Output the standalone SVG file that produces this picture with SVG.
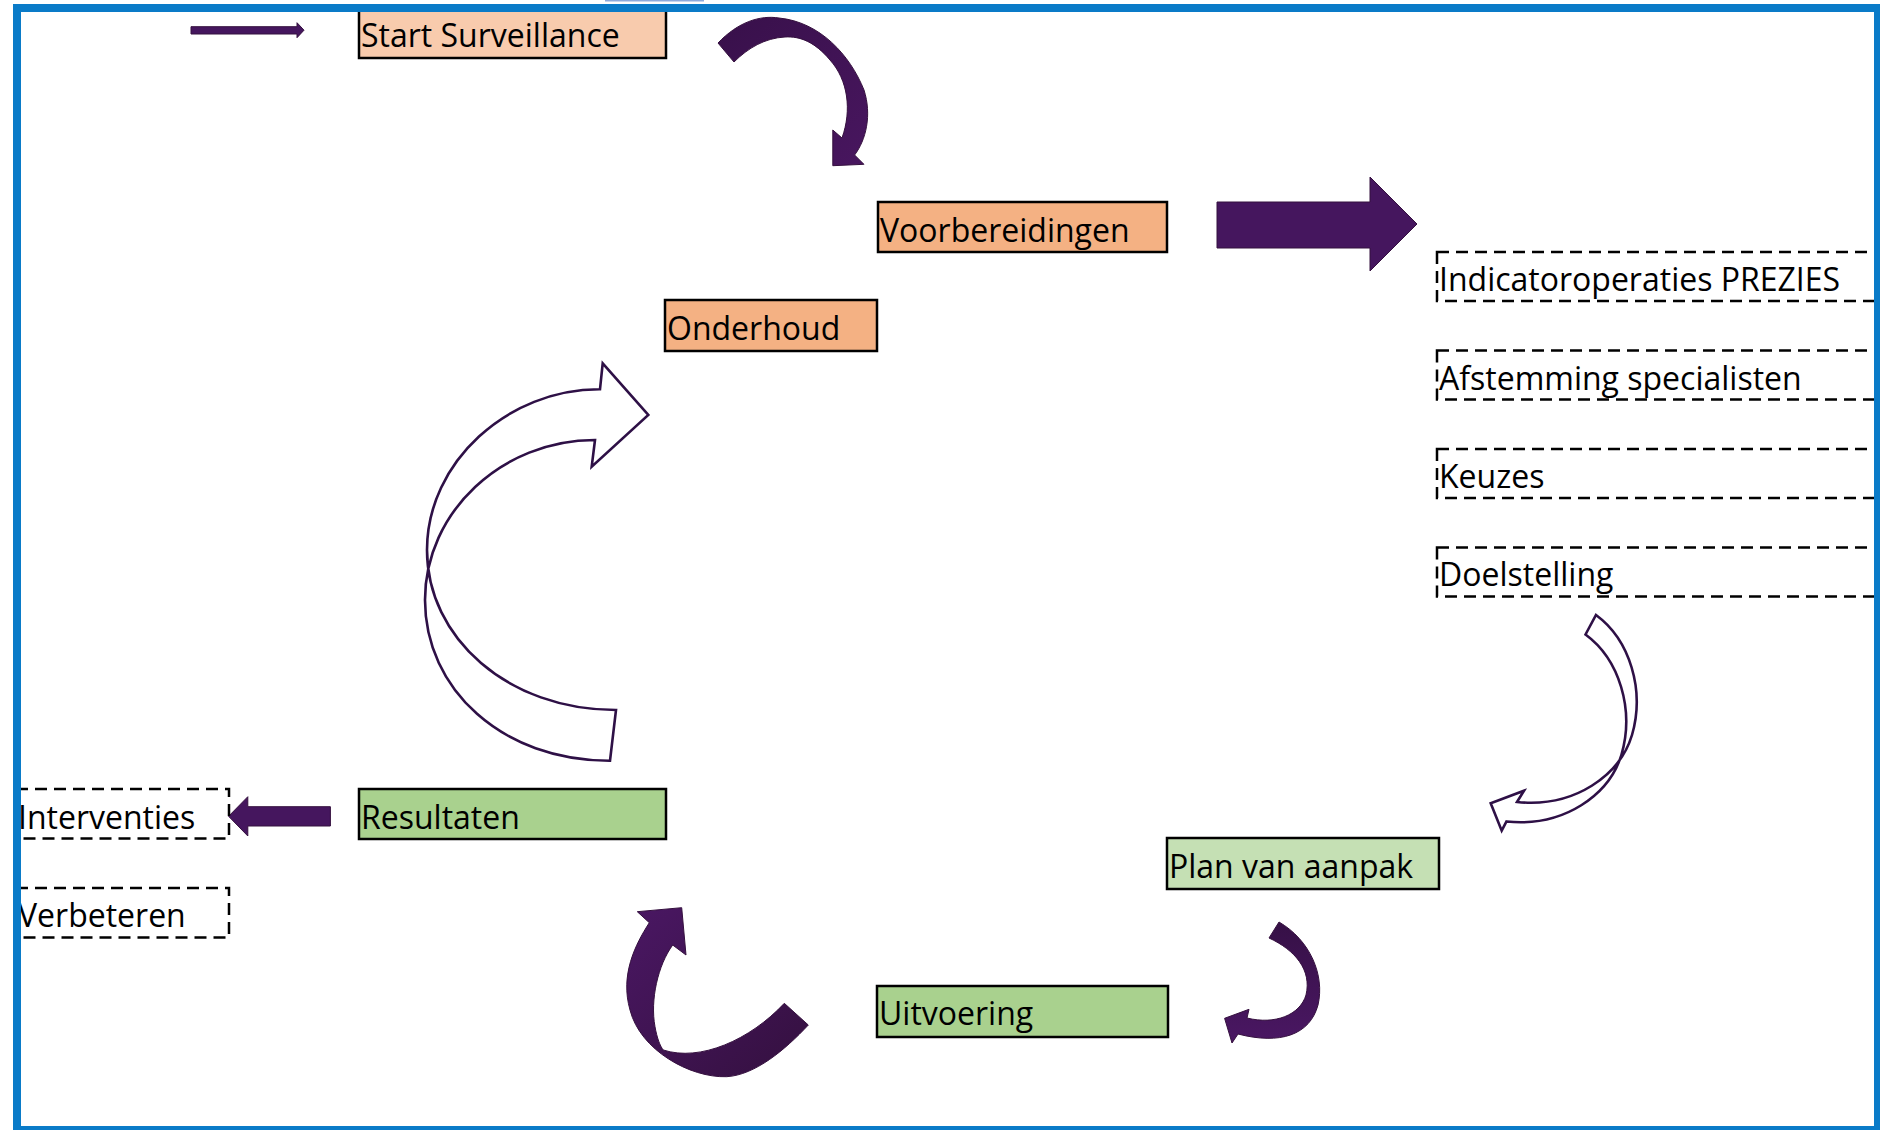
<svg xmlns="http://www.w3.org/2000/svg" width="1880" height="1130" viewBox="0 0 1880 1130">
  <style>
    .lbl { font-family: "Open Sans", "Liberation Sans", sans-serif; font-size: 32px; fill: #000; }
    .box { stroke: #000; stroke-width: 2.5; }
    .peach { fill: #F8CBAD; }
    .orange { fill: #F4B183; }
    .green { fill: #A9D18E; }
    .lgreen { fill: #C5E0B4; }
    .dash { fill: none; stroke: #000; stroke-width: 2.5; stroke-dasharray: 12 7; }
    .solid { fill: #45165E; stroke: #35103F; stroke-width: 1; }
    .hollow { fill: #fff; stroke: #2E1046; stroke-width: 2.6; stroke-linejoin: miter; }
  </style>
  <defs>
    <linearGradient id="gTop" x1="0" y1="0" x2="1" y2="1">
      <stop offset="0" stop-color="#38104A"/>
      <stop offset="1" stop-color="#48165F"/>
    </linearGradient>
    <linearGradient id="gBR" x1="0" y1="0" x2="0" y2="1">
      <stop offset="0" stop-color="#361046"/>
      <stop offset="1" stop-color="#4A1763"/>
    </linearGradient>
    <linearGradient id="gBL" x1="0" y1="0" x2="1" y2="1">
      <stop offset="0" stop-color="#4A1763"/>
      <stop offset="1" stop-color="#34103F"/>
    </linearGradient>
  </defs>

  <rect x="0" y="0" width="1880" height="1130" fill="#fff"/>
  <rect x="605" y="-2" width="99" height="3.5" fill="#8EA9DB"/>

  <g id="connectors">
    <path id="arrow-start" class="solid" d="M191,26.7 L297,26.7 L297,22.7 L304,30.2 L297,37.7 L297,34 L191,34 Z"/>
    <path id="arrow-curve-top" fill="url(#gTop)" stroke="#35103F" stroke-width="1" d="M718,43 C738,22 760,15 779,18 C820,22 850,55 864,90 C872,115 866,140 854.6,155 L863.9,164.3 L832.8,165.7 L832.8,130 L842,138 C852,110 848,80 830,60 C815,42 800,36 785,37 C765,38 748,48 734,62 Z"/>
    <path id="arrow-big-right" class="solid" d="M1217,202 L1370,202 L1370,177 L1417,224 L1370,271 L1370,248 L1217,248 Z"/>
    <path id="arrow-hollow-right" class="hollow" d="M1596,615 C1630,640 1645,690 1632,735 C1620,775 1575,808 1517,802 L1524,790.7 L1490.7,803.3 L1501.7,830.7 L1506.5,821.5 C1564.5,827.5 1609.5,794.5 1621.5,754.5 C1634.5,709.5 1619.5,659.5 1585.5,634.5 Z"/>
    <path id="arrow-curve-br" fill="url(#gBR)" stroke="#35103F" stroke-width="1" d="M1279,922 C1310,940 1325,975 1318,1005 C1310,1035 1280,1045 1238,1034 L1232,1043 L1224.6,1018.3 L1249,1009.3 L1247,1018 C1275,1025 1300,1015 1306,995 C1312,970 1295,950 1269,938 Z"/>
    <path id="arrow-curve-bl" fill="url(#gBL)" stroke="#35103F" stroke-width="1" d="M784.3,1003.3 L808.3,1025 C785,1050 755,1075 726.7,1076.7 C690,1078 640,1050 630,1010 C620,975 635,945 649.3,922.7 L637.3,911.7 L681.7,907.7 L686,955 L672.7,945 C658,965 650,1000 655,1026.7 C657,1038 660,1046 663.3,1050 C700,1062 750,1040 784.3,1003.3 Z"/>
    <path id="arrow-left" class="solid" d="M330.4,806.7 L247.8,806.7 L247.8,796.7 L228.6,816.3 L247.8,836 L247.8,826 L330.4,826 Z"/>
    <path id="arrow-hollow-left" class="hollow" d="M595,440 L591.7,466.7 L648.3,415 L602.7,363.3 L600,389.3 C508,389 427,462 427,550 C427,638 508,710 616,710 L610,760.7 C502,761 425,689 425,600 C425,512 502,440 595,440 Z"/>
  </g>

  <g id="node-start">
    <rect class="box peach" x="359" y="10" width="307" height="48"/>
    <text class="lbl" x="361" y="47">Start Surveillance</text>
  </g>
  <g id="node-voorbereidingen">
    <rect class="box orange" x="878" y="202" width="289" height="50"/>
    <text class="lbl" x="880" y="242">Voorbereidingen</text>
  </g>
  <g id="node-onderhoud">
    <rect class="box orange" x="665" y="300" width="212" height="51"/>
    <text class="lbl" x="667" y="340">Onderhoud</text>
  </g>
  <g id="node-indicator">
    <rect class="dash" x="1437" y="252" width="470" height="49"/>
    <text class="lbl" x="1439" y="291">Indicatoroperaties PREZIES</text>
  </g>
  <g id="node-afstemming">
    <rect class="dash" x="1437" y="350.5" width="470" height="49"/>
    <text class="lbl" x="1439" y="390">Afstemming specialisten</text>
  </g>
  <g id="node-keuzes">
    <rect class="dash" x="1437" y="449" width="470" height="49"/>
    <text class="lbl" x="1439" y="488">Keuzes</text>
  </g>
  <g id="node-doelstelling">
    <rect class="dash" x="1437" y="547.5" width="470" height="49"/>
    <text class="lbl" x="1439" y="586">Doelstelling</text>
  </g>
  <g id="node-plan">
    <rect class="box lgreen" x="1167" y="838" width="272" height="51"/>
    <text class="lbl" x="1169" y="878">Plan van aanpak</text>
  </g>
  <g id="node-uitvoering">
    <rect class="box green" x="877" y="986" width="291" height="51"/>
    <text class="lbl" x="879" y="1025">Uitvoering</text>
  </g>
  <g id="node-resultaten">
    <rect class="box green" x="359" y="789" width="307" height="50"/>
    <text class="lbl" x="361" y="829">Resultaten</text>
  </g>
  <g id="node-interventies">
    <rect class="dash" x="16" y="789" width="213" height="49.5"/>
    <text class="lbl" x="18" y="829">Interventies</text>
  </g>
  <g id="node-verbeteren">
    <rect class="dash" x="16" y="888" width="213" height="49.5"/>
    <text class="lbl" x="18" y="927">Verbeteren</text>
  </g>

  <rect id="frame" x="17" y="8" width="1861" height="1122" fill="none" stroke="#0A7BC8" stroke-width="8"/>
</svg>
